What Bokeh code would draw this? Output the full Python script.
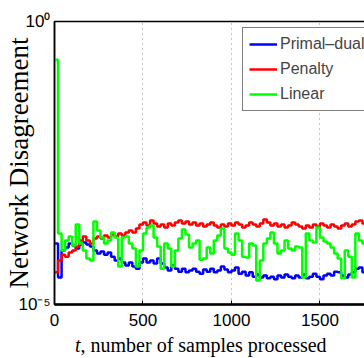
from bokeh.plotting import figure
from bokeh.models import FixedTicker, Range1d, Legend, LegendItem, Div
from bokeh.layouts import column
from bokeh.embed import file_html
from bokeh.resources import INLINE

# ---- data ----
step = 20  # samples per plotted step
primal_dual = [1.20e-4, 3.0e-5, 9.0e-5, 1.02e-4, 1.20e-4, 1.10e-4, 9.8e-5, 1.15e-4, 1.25e-4, 1.15e-4,
               1.06e-4, 9.0e-5, 8.0e-5, 8.6e-5, 7.6e-5, 8.3e-5, 7.0e-5, 6.0e-5, 6.5e-5, 5.5e-5,
               4.9e-5, 5.5e-5, 4.7e-5, 4.3e-5, 5.5e-5, 6.5e-5, 5.5e-5, 6.0e-5, 5.3e-5, 6.5e-5,
               5.3e-5, 4.5e-5, 4.0e-5, 4.9e-5, 4.3e-5, 3.8e-5, 4.3e-5, 3.7e-5, 4.0e-5, 4.3e-5,
               3.8e-5, 3.5e-5, 4.15e-5, 3.8e-5, 4.3e-5, 3.7e-5, 4.0e-5, 4.7e-5, 4.15e-5, 3.7e-5,
               4.0e-5, 4.5e-5, 3.5e-5, 3.8e-5, 3.25e-5, 3.7e-5, 3.1e-5, 3.4e-5, 3.0e-5, 3.25e-5,
               2.9e-5, 3.1e-5, 2.8e-5, 3.25e-5, 3.0e-5, 3.4e-5, 3.1e-5, 2.9e-5, 3.25e-5, 3.0e-5,
               3.4e-5, 2.9e-5, 3.1e-5, 3.5e-5, 3.1e-5, 2.8e-5, 3.25e-5, 3.5e-5, 3.25e-5, 3.8e-5,
               3.7e-5, 3.25e-5, 3.0e-5, 3.4e-5, 3.7e-5, 4.3e-5, 4.5e-5, 3.7e-5, 3.1e-5]
penalty = [3.7e-5, 6.0e-5, 7.6e-5, 7.0e-5, 8.3e-5, 9.0e-5, 1.06e-4, 1.35e-4, 1.59e-4, 1.35e-4,
           1.20e-4, 1.47e-4, 1.59e-4, 1.47e-4, 1.66e-4, 1.53e-4, 1.72e-4, 1.59e-4, 1.80e-4, 1.66e-4,
           1.87e-4, 2.03e-4, 1.87e-4, 2.20e-4, 2.59e-4, 2.81e-4, 2.49e-4, 3.05e-4, 2.70e-4, 2.39e-4,
           2.59e-4, 2.29e-4, 2.70e-4, 2.49e-4, 2.81e-4, 3.05e-4, 2.70e-4, 2.93e-4, 2.59e-4, 2.81e-4,
           2.49e-4, 2.70e-4, 2.39e-4, 2.59e-4, 2.81e-4, 2.49e-4, 2.29e-4, 2.59e-4, 2.39e-4, 2.70e-4,
           2.49e-4, 2.81e-4, 2.59e-4, 2.29e-4, 2.49e-4, 2.81e-4, 2.59e-4, 2.39e-4, 2.70e-4, 3.17e-4,
           2.81e-4, 2.49e-4, 2.70e-4, 2.39e-4, 2.59e-4, 2.29e-4, 2.49e-4, 2.81e-4, 2.59e-4, 2.39e-4,
           2.20e-4, 2.49e-4, 2.29e-4, 2.59e-4, 2.39e-4, 2.70e-4, 2.49e-4, 2.29e-4, 2.59e-4, 2.39e-4,
           2.20e-4, 2.49e-4, 2.70e-4, 2.39e-4, 2.59e-4, 2.93e-4, 3.05e-4, 2.70e-4, 2.49e-4]
linear = [0.21, 1.80e-4, 9.0e-5, 1.35e-4, 1.59e-4, 1.10e-4, 2.59e-4, 1.20e-4, 9.0e-5, 6.5e-5,
          6.0e-5, 2.93e-4, 2.03e-4, 1.53e-4, 1.20e-4, 1.35e-4, 1.87e-4, 1.53e-4, 4.7e-5, 1.53e-4,
          1.59e-4, 1.20e-4, 9.8e-5, 4.7e-5, 9.0e-5, 1.80e-4, 2.29e-4, 2.49e-4, 1.53e-4, 1.06e-4,
          4.3e-5, 1.20e-4, 9.8e-5, 4.7e-5, 9.0e-5, 1.47e-4, 2.11e-4, 1.72e-4, 1.02e-4, 1.20e-4,
          1.35e-4, 6.2e-5, 6.5e-5, 1.02e-4, 8.0e-5, 1.35e-4, 1.66e-4, 2.20e-4, 9.8e-5, 8.3e-5,
          7.6e-5, 1.80e-4, 1.35e-4, 7.0e-5, 6.8e-5, 1.20e-4, 1.10e-4, 2.65e-5, 6.0e-5, 1.20e-4,
          1.47e-4, 1.87e-4, 1.20e-4, 8.0e-5, 9.0e-5, 1.35e-4, 9.8e-5, 9.0e-5, 1.06e-4, 1.02e-4,
          3.0e-5, 1.80e-4, 1.35e-4, 1.25e-4, 2.29e-4, 1.53e-4, 1.30e-4, 1.20e-4, 1.02e-4, 8.0e-5,
          6.5e-5, 2.9e-5, 9.0e-5, 7.0e-5, 3.0e-5, 1.80e-4, 1.35e-4, 1.20e-4, 1.10e-4]
series_names = ["Primal\u2013dual", "Penalty", "Linear"]
series_colors = ["#0000ff", "#ff0000", "#00ff00"]
x_ticks = [0, 500, 1000, 1500]
y_ticks = [1e-5, 1.0]
y_tick_labels = {1e-5: "10\u207b\u2075", 1.0: "10\u2070"}

p = figure(frame_width=312, frame_height=283, y_axis_type="log", output_backend="svg",
           toolbar_location=None,
           x_range=Range1d(0, 1763), y_range=Range1d(1e-5, 1.0),
           min_border_left=52, min_border_right=0, min_border_top=21,
           min_border_bottom=30)
p.background_fill_color = "white"
p.border_fill_color = "white"
p.outline_line_color = "black"
p.outline_line_width = 1.5

renderers = []
for vals, col in zip([primal_dual, penalty, linear], series_colors):
    xs = [i * step for i in range(len(vals))] + [len(vals) * step]
    ys = list(vals) + [vals[-1]]
    r = p.step(xs, ys, mode="after", line_color=col, line_width=2.5)
    renderers.append(r)

# axes
p.xaxis.ticker = FixedTicker(ticks=x_ticks)
p.yaxis.ticker = FixedTicker(ticks=y_ticks, minor_ticks=[])
p.yaxis.major_label_overrides = y_tick_labels
for ax in (p.xaxis[0], p.yaxis[0]):
    ax.axis_line_color = "black"
    ax.major_tick_in = 4
    ax.major_tick_out = 0
    ax.minor_tick_in = 0
    ax.minor_tick_out = 0
    ax.major_tick_line_color = "black"
    ax.major_label_text_font = "Liberation Sans"
    ax.major_label_text_font_size = "17px"
    ax.major_label_text_color = "black"
p.xaxis.axis_line_width = 2.5
p.yaxis.axis_line_width = 1.5
p.xaxis.major_label_standoff = 9
p.yaxis.major_label_standoff = 4

p.yaxis.axis_label = "Network Disagreement"
p.yaxis.axis_label_text_font = "Liberation Serif"
p.yaxis.axis_label_text_font_style = "normal"
p.yaxis.axis_label_text_font_size = "27px"
p.yaxis.axis_label_text_color = "black"
p.yaxis.axis_label_standoff = -18

p.xgrid.grid_line_color = "#888888"
p.xgrid.grid_line_dash = "1 4"
p.xgrid.grid_line_width = 1
p.ygrid.grid_line_color = None

legend = Legend(items=[LegendItem(label=n, renderers=[r]) for n, r in zip(series_names, renderers)],
                location=(188, 193))
legend.label_text_font = "Liberation Sans"
legend.label_text_font_size = "16px"
legend.label_standoff = 3
legend.glyph_width = 28
legend.glyph_height = 20
legend.label_height = 20
legend.spacing = 5
legend.padding = 6
legend.margin = 0
legend.border_line_color = "black"
legend.border_line_width = 1
legend.background_fill_alpha = 1.0
p.add_layout(legend)

xlabel = Div(text="<i>t</i>, number of samples processed", width=364, height=24,
             margin=(0, 0, 0, 0),
             styles={"font-family": "Liberation Serif", "font-size": "20px",
                     "padding-left": "75px", "line-height": "22px", "color": "black",
                     "white-space": "nowrap"})

layout = column(p, xlabel, spacing=0)
open("out.html", "w").write(file_html(layout, INLINE))
